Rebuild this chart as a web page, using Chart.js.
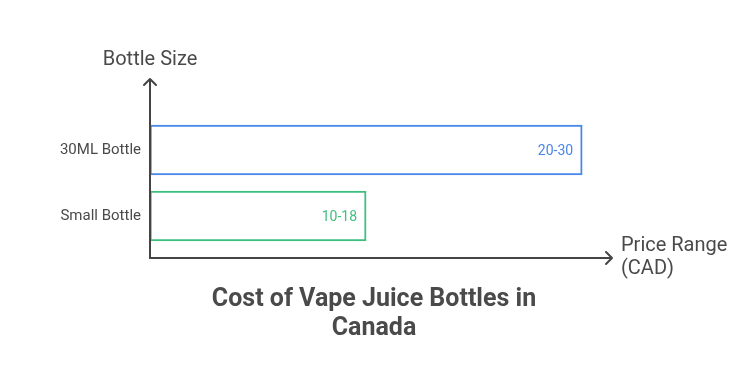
<!DOCTYPE html>
<html>
<head>
<meta charset="utf-8">
<script src="https://cdn.jsdelivr.net/npm/chart.js@4/dist/chart.umd.min.js"></script>
<style>
  html, body { margin: 0; padding: 0; background: #fff; }
  #wrap { width: 738px; height: 390px; }
</style>
</head>
<body>
<div id="wrap"><canvas id="priceChart"></canvas></div>
<script>
// Datos del gráfico
const categories = ['30ML Bottle', 'Small Bottle'];
const barValues = [30, 15];
const rangeLabels = ['20-30', '10-18'];
const barColors = ['#4a86e8', '#3dbf7f'];
const xAxisTitle = ['Price Range', '(CAD)'];
const yAxisTitle = 'Bottle Size';
const chartTitle = ['Cost of Vape Juice Bottles in', 'Canada'];

const axisColor = '#444444';
const textColor = '#4a4a4a';

// Ejes con flechas, etiquetas de ejes, etiquetas de valores y titulo
const arrowAxes = {
    id: 'arrowAxes',
    afterDatasetsDraw(chart) {
        const { ctx, chartArea, width } = chart;
        const x0 = chartArea.left;
        const y0 = chartArea.bottom + 9;
        const yTop = chartArea.top - 38;
        const xEnd = chartArea.right + 1;

        ctx.save();
        ctx.strokeStyle = axisColor;
        ctx.lineWidth = 2;
        ctx.lineCap = 'round';
        ctx.lineJoin = 'round';

        ctx.beginPath();
        ctx.moveTo(x0, y0);
        ctx.lineTo(x0, yTop);
        ctx.moveTo(x0 - 6, yTop + 6);
        ctx.lineTo(x0, yTop);
        ctx.lineTo(x0 + 6, yTop + 6);
        ctx.stroke();

        ctx.beginPath();
        ctx.moveTo(x0, y0);
        ctx.lineTo(xEnd, y0);
        ctx.moveTo(xEnd - 6, y0 - 6);
        ctx.lineTo(xEnd, y0);
        ctx.lineTo(xEnd - 6, y0 + 6);
        ctx.stroke();

        // titulos de ejes
        ctx.fillStyle = textColor;
        ctx.font = '20px Roboto';
        ctx.textAlign = 'center';
        ctx.textBaseline = 'middle';
        ctx.fillText(yAxisTitle, x0, yTop - 19);
        ctx.textAlign = 'left';
        ctx.fillText(xAxisTitle[0], xEnd + 9, y0 - 12);
        ctx.fillText(xAxisTitle[1], xEnd + 9, y0 + 11);

        // etiquetas de rango dentro de las barras
        const meta = chart.getDatasetMeta(0);
        ctx.font = '14px Roboto';
        ctx.textAlign = 'right';
        meta.data.forEach((bar, i) => {
            ctx.fillStyle = barColors[i];
            ctx.fillText(rangeLabels[i], bar.x - 9, bar.y + 1);
        });

        // titulo
        ctx.fillStyle = textColor;
        ctx.font = 'bold 25px Roboto';
        ctx.textAlign = 'center';
        chartTitle.forEach((line, i) => {
            ctx.fillText(line, width / 2 + 5, y0 + 42 + i * 29);
        });
        ctx.restore();
    }
};

const ctx = document.getElementById('priceChart').getContext('2d');
const priceChart = new Chart(ctx, {
    type: 'bar',
    data: {
        labels: categories,
        datasets: [{
            data: barValues,
            backgroundColor: '#ffffff',
            borderColor: barColors,
            borderWidth: 2,
            borderSkipped: false,
            barThickness: 50
        }]
    },
    options: {
        indexAxis: 'y',
        responsive: true,
        maintainAspectRatio: false,
        animation: false,
        layout: {
            padding: { top: 117, right: 127, left: 0, bottom: 141 }
        },
        scales: {
            x: {
                display: false,
                min: 0,
                max: 32
            },
            y: {
                grid: { display: false, drawTicks: false },
                border: { display: false },
                ticks: {
                    color: textColor,
                    font: { family: 'Roboto', size: 15 },
                    padding: 9
                },
                afterFit(scale) { scale.width = 150; }
            }
        },
        plugins: {
            legend: { display: false },
            tooltip: { enabled: false },
            title: { display: false }
        }
    },
    plugins: [arrowAxes]
});
</script>
</body>
</html>
